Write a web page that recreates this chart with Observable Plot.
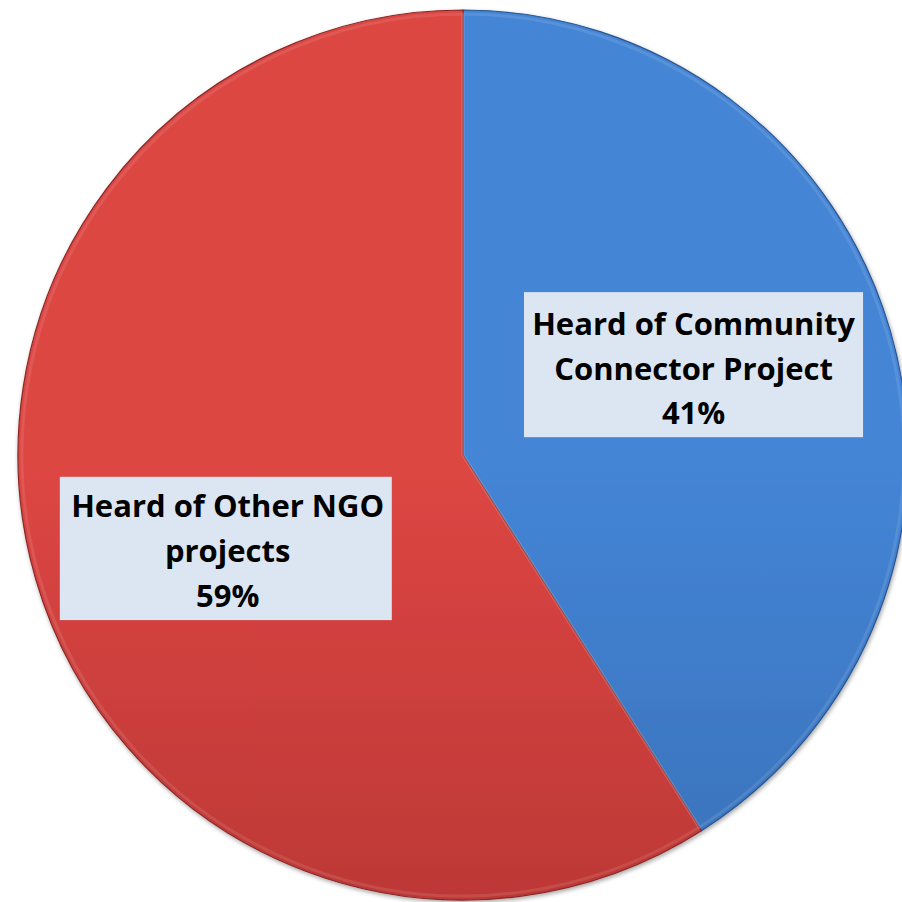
<!DOCTYPE html>
<html>
<head>
<meta charset="utf-8">
<script src="https://cdn.jsdelivr.net/npm/d3@7"></script>
<script src="https://cdn.jsdelivr.net/npm/@observablehq/plot@0.6"></script>
<style>
  html, body { margin: 0; padding: 0; background: #ffffff; overflow: hidden; }
  #chart svg { overflow: hidden; display: block; }
</style>
</head>
<body>
<div id="chart"></div>
<script>
// ---- data ----
const categories = ["Heard of Community Connector Project", "Heard of Other NGO projects"];
const shares = [41, 59];
const percentLabels = ["41%", "59%"];
const labelLines = [
  ["Heard of Community", "Connector Project"],
  ["Heard of Other NGO", "projects"]
];

// ---- styles ----
const topColors = ["#4485d6", "#dd4643"];
const bottomColors = ["#305e9c", "#9c2a29"];
const edgeColors = ["#2a558f", "#8a2826"];

// label placement (in the unit-circle coordinates of the x/y scales)
const labelLayout = [
  {cx: 0.517, cy: 0.203, x1: 0.137, x2: 0.899, y1: 0.366, y2: 0.040},
  {cx: -0.530, cy: -0.207, x1: -0.906, x2: -0.160, y1: -0.049, y2: -0.371}
];

const slices = categories.map((category, i) => ({
  category,
  share: shares[i],
  text: [...labelLines[i], percentLabels[i]].join("\n"),
  ...labelLayout[i]
}));

function pieMark(data) {
  return Plot.dot(data, {
    x: () => 0,
    y: () => 0,
    render(index, scales, values, dimensions, context) {
      const cx = scales.x(0), cy = scales.y(0);
      const r = scales.x(1) - cx;
      const arcs = d3.pie().value(d => d.share).sort(null)(data);
      const arc = d3.arc().innerRadius(0).outerRadius(r);
      const g = d3.create("svg:g");
      const defs = g.append("defs");
      data.forEach((d, i) => {
        const lg = defs.append("linearGradient")
          .attr("id", "slice-grad-" + i)
          .attr("gradientUnits", "userSpaceOnUse")
          .attr("x1", 0).attr("x2", 0)
          .attr("y1", cy - r).attr("y2", cy + r);
        lg.append("stop").attr("offset", "0%").attr("stop-color", topColors[i]);
        lg.append("stop").attr("offset", "100%").attr("stop-color", bottomColors[i]);
      });
      const filter = defs.append("filter").attr("id", "pie-shadow")
        .attr("x", "-5%").attr("y", "-5%").attr("width", "110%").attr("height", "110%");
      filter.append("feDropShadow").attr("dx", 1).attr("dy", 2).attr("stdDeviation", 2)
        .attr("flood-color", "#000").attr("flood-opacity", 0.35);
      const pg = g.append("g").attr("transform", `translate(${cx},${cy})`).attr("filter", "url(#pie-shadow)");
      pg.selectAll("path.slice")
        .data(arcs)
        .join("path")
        .attr("class", "slice")
        .attr("d", arc)
        .attr("fill", (d, i) => `url(#slice-grad-${i})`)
        .attr("stroke", (d, i) => edgeColors[i])
        .attr("stroke-width", 1.2)
        .attr("stroke-linejoin", "round");
      pg.selectAll("path.bevel")
        .data(arcs)
        .join("path")
        .attr("class", "bevel")
        .attr("d", d3.arc().innerRadius(0).outerRadius(r - 4))
        .attr("fill", "none")
        .attr("stroke", "rgba(255,255,255,0.10)")
        .attr("stroke-width", 3);
      return g.node();
    }
  });
}

const chart = Plot.plot({
  width: 902,
  height: 902,
  margin: 0,
  x: {domain: [-1, 1], range: [18, 908], axis: null},
  y: {domain: [-1, 1], range: [900, 10], axis: null},
  style: {background: "#ffffff", overflow: "hidden"},
  marks: [
    pieMark(slices),
    Plot.rect(slices, {x1: "x1", x2: "x2", y1: "y1", y2: "y2", fill: "#dce6f2"}),
    Plot.text(slices, {
      x: "cx", y: "cy", text: "text",
      fontFamily: "'Open Sans', Lato, sans-serif",
      fontWeight: "bold",
      fontSize: 31,
      lineHeight: 1.45,
      fill: "#000000",
      textAnchor: "middle"
    })
  ]
});
document.getElementById("chart").appendChild(chart);
</script>
</body>
</html>
